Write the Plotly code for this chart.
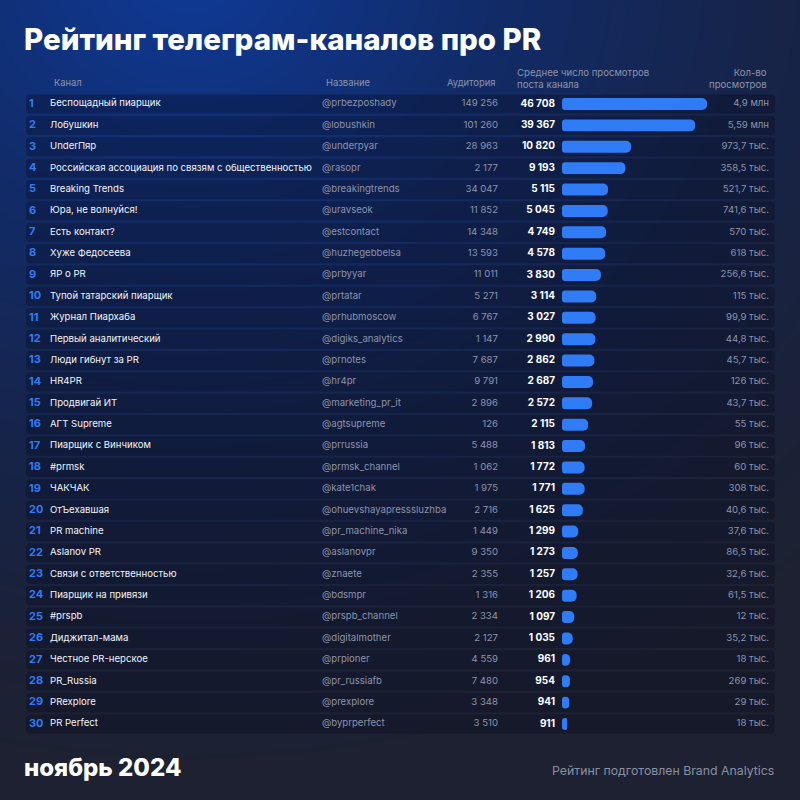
import numpy as np
import plotly.graph_objects as go

# --- data -------------------------------------------------------------------
ranks = list(range(1, 31))

channels = [
    "Беспощадный пиарщик", "Лобушкин", "UnderПяр",
    "Российская ассоциация по связям с общественностью", "Breaking Trends",
    "Юра, не волнуйся!", "Есть контакт?", "Хуже Федосеева", "ЯР о PR",
    "Тупой татарский пиарщик", "Журнал Пиархаба", "Первый аналитический",
    "Люди гибнут за PR", "HR4PR", "Продвигай ИТ", "АГТ Supreme",
    "Пиарщик с Винчиком", "#prmsk", "ЧАКЧАК", "ОтЪехавшая", "PR machine",
    "Aslanov PR", "Связи с ответственностью", "Пиарщик на привязи", "#prspb",
    "Диджитал-мама", "Честное PR-нерское", "PR_Russia", "PRexplore", "PR Perfect",
]

handles = [
    "@prbezposhady", "@lobushkin", "@underpyar", "@rasopr", "@breakingtrends",
    "@uravseok", "@estcontact", "@huzhegebbelsa", "@prbyyar", "@prtatar",
    "@prhubmoscow", "@digiks_analytics", "@prnotes", "@hr4pr", "@marketing_pr_it",
    "@agtsupreme", "@prrussia", "@prmsk_channel", "@kate1chak",
    "@ohuevshayapresssluzhba", "@pr_machine_nika", "@aslanovpr", "@znaete",
    "@bdsmpr", "@prspb_channel", "@digitalmother", "@prpioner", "@pr_russiafb",
    "@prexplore", "@byprperfect",
]

audience = [149256, 101260, 28963, 2177, 34047, 11852, 14348, 13593, 11011, 5271,
            6767, 1147, 7687, 9791, 2896, 126, 5488, 1062, 1975, 2716,
            1449, 9350, 2355, 1316, 2334, 2127, 4559, 7480, 3348, 3510]

avg_views = [46708, 39367, 10820, 9193, 5115, 5045, 4749, 4578, 3830, 3114,
             3027, 2990, 2862, 2687, 2572, 2115, 1813, 1772, 1771, 1625,
             1299, 1273, 1257, 1206, 1097, 1035, 961, 954, 941, 911]

total_views = ["4,9 млн", "5,59 млн", "973,7 тыс.", "358,5 тыс.", "521,7 тыс.",
               "741,6 тыс.", "570 тыс.", "618 тыс.", "256,6 тыс.", "115 тыс.",
               "99,9 тыс.", "44,8 тыс.", "45,7 тыс.", "126 тыс.", "43,7 тыс.",
               "55 тыс.", "96 тыс.", "60 тыс.", "308 тыс.", "40,6 тыс.",
               "37,6 тыс.", "86,5 тыс.", "32,6 тыс.", "61,5 тыс.", "12 тыс.",
               "35,2 тыс.", "18 тыс.", "269 тыс.", "29 тыс.", "18 тыс."]

# --- styling ----------------------------------------------------------------
W, H = 800, 800
FONT = "Inter"
BLUE = "#2f7cf6"
GREY = "#8c94ab"
WHITE = "#f2f4f8"


def fmt(n):
    return f"{n:,}".replace(",", " ")


# y axis in row units: row 1 centred at 104px, row 30 at 724px
row_px = (724 - 104) / 29
y_top = 1 - 104 / row_px
y_bot = 1 + (H - 104) / row_px

# bars use a square-root display scale so the small channels stay visible
bar_floor = 900
bar_len = np.sqrt(np.array(avg_views) - bar_floor)
bar_px = 707 - 565                      # pixel length of the longest bar
cap = 3 * bar_len.max() / bar_px        # rounded left cap, about 3px

fig = go.Figure()

# background glow
gx = np.linspace(0, W, 41)
gy = np.linspace(y_top, y_bot, 41)
px_y = (gy - y_top) * row_px
dist = np.sqrt(((gx[None, :] - 190) / 1.15) ** 2 + (px_y[:, None] + 30) ** 2)
fig.add_trace(go.Heatmap(
    x=gx, y=gy, z=np.clip(dist / 820, 0, 1), zmin=0, zmax=1, zsmooth="best",
    colorscale=[[0, "#0f3a97"], [0.3, "#112c6a"], [0.6, "#16244a"],
                [0.85, "#1b2136"], [1, "#1d2131"]],
    showscale=False, hoverinfo="skip",
))

# row bands
fig.add_trace(go.Bar(
    y=ranks, x=[749] * len(ranks), base=26, orientation="h", width=0.9,
    marker=dict(color="rgba(6,10,28,0.32)", cornerradius=4, line_width=0),
    hoverinfo="skip",
))

# avg-views bars (own subplot sharing the row axis), with a rounded left cap
fig.add_trace(go.Bar(
    y=ranks, x=[-cap] * len(ranks), orientation="h", width=0.56,
    xaxis="x2", yaxis="y",
    marker=dict(color=BLUE, cornerradius=5, line_width=0),
    hoverinfo="skip",
))
fig.add_trace(go.Bar(
    y=ranks, x=bar_len, orientation="h", width=0.56,
    xaxis="x2", yaxis="y",
    marker=dict(color=BLUE, cornerradius=5, line_width=0),
    hoverinfo="skip",
))

# table text
fig.add_trace(go.Scatter(
    x=[29] * 30, y=ranks, mode="text", text=[str(r) for r in ranks],
    textposition="middle right",
    textfont=dict(family=FONT, size=11, color=BLUE, weight=700),
    hoverinfo="skip",
))
fig.add_trace(go.Scatter(
    x=[50] * 30, y=ranks, mode="text", text=channels,
    textposition="middle right",
    textfont=dict(family=FONT, size=9.6, color=WHITE),
    hoverinfo="skip",
))
fig.add_trace(go.Scatter(
    x=[322] * 30, y=ranks, mode="text", text=handles,
    textposition="middle right",
    textfont=dict(family=FONT, size=9.6, color=GREY),
    hoverinfo="skip",
))
fig.add_trace(go.Scatter(
    x=[498] * 30, y=ranks, mode="text", text=[fmt(a) for a in audience],
    textposition="middle left",
    textfont=dict(family=FONT, size=9.6, color=GREY),
    hoverinfo="skip",
))
fig.add_trace(go.Scatter(
    x=[555] * 30, y=ranks, mode="text", text=[fmt(v) for v in avg_views],
    textposition="middle left",
    textfont=dict(family=FONT, size=10, color="#ffffff", weight=700),
    hoverinfo="skip",
))
fig.add_trace(go.Scatter(
    x=[769] * 30, y=ranks, mode="text", text=total_views,
    textposition="middle left",
    textfont=dict(family=FONT, size=9.6, color=GREY),
    hoverinfo="skip",
))


def note(text, x, y, size, color, anchor="left", weight=400):
    fig.add_annotation(
        x=x / W, y=1 - y / H, xref="paper", yref="paper", text=text,
        showarrow=False, xanchor=anchor, yanchor="middle", align=anchor,
        font=dict(family=FONT, size=size, color=color, weight=weight),
    )


note("Рейтинг телеграм-каналов про PR", 22, 39, 29.5, "#ffffff", weight=800)
note("Канал", 52, 82, 9.4, GREY)
note("Название", 324, 82, 9.4, GREY)
note("Аудитория", 497, 82, 9.4, GREY, anchor="right")
note("Среднее число просмотров<br>поста канала", 515, 78, 9.6, GREY)
note("Кол-во<br>просмотров", 769, 78, 9.6, GREY, anchor="right")
note("ноябрь 2024", 22, 767, 24, "#ffffff", weight=800)
note("Рейтинг подготовлен Brand Analytics", 776, 770, 12.3, "#8a90a2", anchor="right")

fig.update_layout(
    width=W, height=H,
    margin=dict(l=0, r=0, t=0, b=0),
    paper_bgcolor="#161d33", plot_bgcolor="rgba(0,0,0,0)",
    showlegend=False, barmode="overlay",
    xaxis=dict(range=[0, W], domain=[0, 1], visible=False, fixedrange=True),
    xaxis2=dict(range=[-cap, bar_len.max()], domain=[562 / W, 707 / W],
                anchor="y", visible=False, fixedrange=True),
    yaxis=dict(range=[y_bot, y_top], visible=False, fixedrange=True),
)

fig.write_html("out.html", config={"displayModeBar": False},
               post_script="document.body.style.margin='0';")
